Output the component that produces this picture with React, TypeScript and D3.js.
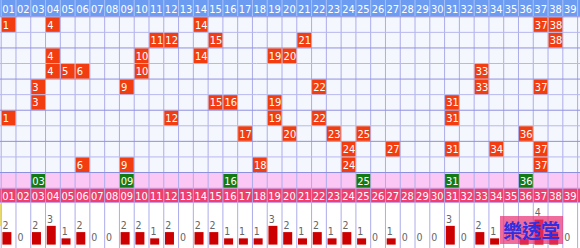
import React from "react";
import * as d3 from "d3";

const numbers = d3.range(1, 40);
const draws: number[][] = [
  [1, 4, 14, 37, 38],
  [11, 12, 15, 21, 38],
  [4, 10, 14, 19, 20],
  [4, 5, 6, 10, 33],
  [3, 9, 22, 33, 37],
  [3, 15, 16, 19, 31],
  [1, 12, 19, 22, 31],
  [17, 20, 23, 25, 36],
  [24, 27, 31, 34, 37],
  [6, 9, 18, 24, 37],
];
const specials = [3, 9, 16, 25, 31, 36];
const counts = [2, 0, 2, 3, 1, 2, 0, 0, 2, 2, 1, 2, 0, 2, 2, 1, 1, 1, 3, 2, 1, 2, 1, 2, 1, 0, 1, 0, 0, 0, 3, 0, 2, 1, 0, 1, 4, 2, 0];
const watermark = "樂透堂";

const W = 580;
const H = 248;
const FONT = "'DejaVu Sans Condensed', 'Liberation Sans', Arial, sans-serif";

export default function App() {
  const x = d3.scaleBand<number>().domain(numbers).range([1.2, 577.6]).paddingInner(0).paddingOuter(0);
  const cw = x.bandwidth();
  const headerH = 16.5;
  const rowTop = 16.8;
  const rowH = 15.57;
  const y = d3.scaleBand<number>().domain(d3.range(draws.length)).range([rowTop, rowTop + rowH * draws.length]);
  const gridBottom = rowTop + rowH * draws.length;
  const pinkTop = gridBottom;
  const pinkBottom = 188.2;
  const redBottom = 202.5;
  const baseline = 244.6;
  const yBar = d3.scaleLinear().domain([0, 1]).range([0, 6.25]);
  const pad = (n: number) => (n < 10 ? "0" + n : String(n));

  const vlines = d3.range(0, numbers.length + 1).map((i) => 1.2 + i * cw);
  const hlines = d3.range(0, draws.length + 1).map((i) => rowTop + i * rowH);

  return (
    <svg width={W} height={H} style={{ position: "absolute", left: 0, top: 0, background: "#fff" }} fontFamily={FONT}>
      <rect x={0} y={0} width={W} height={headerH} fill="#6c9cf2" />
      <rect x={0} y={rowTop} width={W} height={gridBottom - rowTop} fill="#f4f7fe" />
      <rect x={0} y={pinkTop} width={W} height={pinkBottom - pinkTop} fill="#fbc8f6" />
      <rect x={0} y={pinkBottom} width={W} height={redBottom - pinkBottom} fill="#ef3f6e" />
      <rect x={0} y={redBottom} width={W} height={H - redBottom} fill="#ffffff" />

      {vlines.map((vx, i) => (
        <g key={"v" + i}>
          <line x1={vx} x2={vx} y1={0} y2={headerH} stroke="#a9c2f6" strokeWidth={1} />
          <line x1={vx} x2={vx} y1={headerH} y2={H} stroke="#acacea" strokeWidth={1} />
        </g>
      ))}
      {hlines.map((hy, i) => (
        <line key={"h" + i} x1={0} x2={W} y1={hy} y2={hy} stroke={i % 2 === 0 ? "#9090e0" : "#b8b8ee"} strokeWidth={1} />
      ))}
      <line x1={0} x2={W} y1={pinkBottom} y2={pinkBottom} stroke="#c8a0e8" strokeWidth={1} />
      <line x1={0} x2={W} y1={redBottom} y2={redBottom} stroke="#c8a0e8" strokeWidth={1} />

      {numbers.map((n) => (
        <text key={"hd" + n} x={(x(n) as number) + cw / 2} y={13.2} fill="#fff" fontSize={11} textAnchor="middle">
          {pad(n)}
        </text>
      ))}

      {draws.map((row, ri) =>
        row.map((n) => (
          <g key={"c" + ri + "-" + n}>
            <rect x={(x(n) as number) + 0.5} y={(y(ri) as number) + 0.5} width={cw - 1} height={rowH - 1} fill="#f23d10" />
            <text x={(x(n) as number) + 1.6} y={(y(ri) as number) + 11.8} fill="#fff" fontSize={11}>
              {n}
            </text>
          </g>
        ))
      )}

      {specials.map((n) => (
        <g key={"s" + n}>
          <rect x={(x(n) as number) + 0.5} y={pinkTop + 1.5} width={cw - 1} height={pinkBottom - pinkTop - 2} fill="#137a13" />
          <text x={(x(n) as number) + 1.4} y={pinkTop + 12} fill="#fff" fontSize={11}>
            {pad(n)}
          </text>
        </g>
      ))}

      {numbers.map((n) => (
        <text key={"rd" + n} x={(x(n) as number) + cw / 2} y={pinkBottom + 11.6} fill="#fff" fontSize={11} textAnchor="middle">
          {pad(n)}
        </text>
      ))}

      <line x1={1} x2={1} y1={redBottom + 1} y2={226} stroke="#e8d23a" strokeWidth={1.5} />

      {counts.map((v, i) => {
        const n = numbers[i];
        const bx = (x(n) as number) + 1.2;
        const h = yBar(v);
        return (
          <g key={"b" + n}>
            {v > 0 && <rect x={bx} y={baseline - h} width={9} height={h} fill="#cc0000" />}
            <text x={bx + 0.2} y={v > 0 ? baseline - h - 3.2 : baseline - 3.5} fill="#666" fontSize={10.5}>
              {v}
            </text>
          </g>
        );
      })}

      <rect x={500} y={216} width={63} height={28} fill="rgba(232,52,118,0.72)" />
      <text x={531.5} y={237.5} fill="#2f2fe0" fontSize={19} fontWeight={600} textAnchor="middle" fontFamily="'Noto Sans CJK TC', 'Noto Sans CJK SC', sans-serif">
        {watermark}
      </text>
    </svg>
  );
}
